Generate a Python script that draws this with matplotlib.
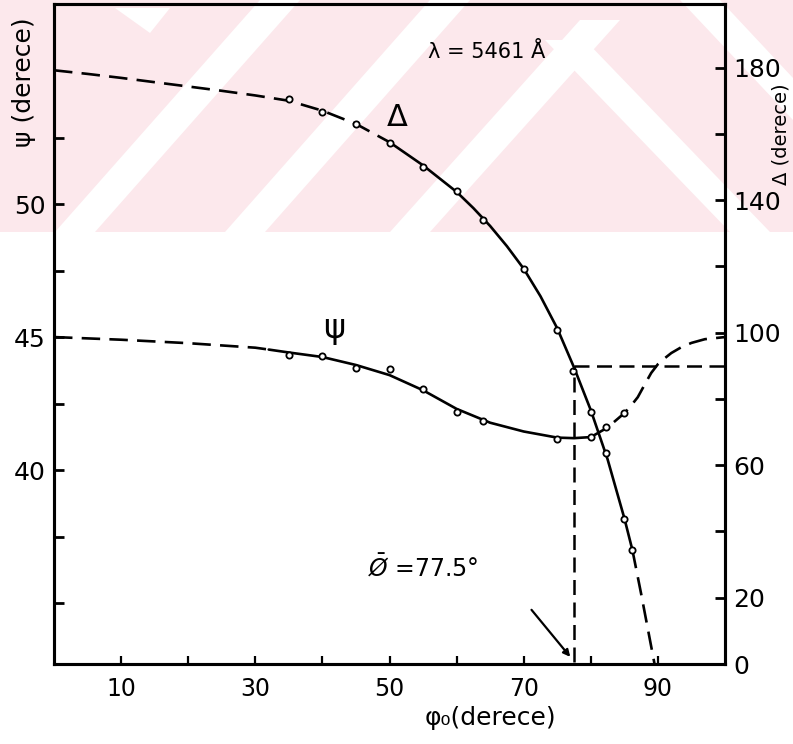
import matplotlib
matplotlib.use("Agg")
import matplotlib.pyplot as plt
from matplotlib.patches import Polygon, Rectangle
import numpy as np

# ---------------- data ----------------
# Delta curve (right axis), drawn line nodes
phi_delta_line = [0, 5, 10, 15, 20, 25, 30, 35, 40, 45, 50, 55, 60, 62.5, 65, 67.5, 70, 72.5, 75, 77.5, 80, 82.5, 85, 86.2, 87.5, 89.5]
delta_line = [179.2, 178.1, 176.9, 175.6, 174.3, 173.0, 171.6, 170.0, 167.0, 163.0, 157.5, 150.5, 142.5, 137.6, 132.2, 126.1, 119.3, 111.0, 101.3, 89.5, 76.6, 61.8, 44.0, 34.4, 21.2, 0.0]
delta_solid_range = (50, 86.2)

# Delta measured points
phi_delta_pts = [35, 40, 45, 50, 55, 60, 64, 70, 75, 77.3, 80, 82.2, 85, 86.2]
delta_pts = [170.4, 166.5, 162.9, 157.1, 149.9, 142.7, 134.0, 119.2, 100.9, 88.3, 76.2, 63.6, 43.8, 34.4]

# psi curve (left axis), drawn line nodes
phi_psi_line = [0, 10, 20, 30, 32, 35, 40, 45, 50, 55, 60, 65, 70, 75, 77.5, 80, 82.5, 85, 86, 87, 88, 89, 90, 91, 92, 93.5, 95, 97, 100]
psi_line = [45.0, 44.9, 44.77, 44.6, 44.53, 44.42, 44.25, 43.95, 43.57, 43.0, 42.3, 41.78, 41.45, 41.22, 41.2, 41.24, 41.6, 42.14, 42.42, 42.74, 43.2, 43.65, 43.98, 44.2, 44.4, 44.62, 44.78, 44.92, 45.0]
psi_solid_range = (32, 80)

# psi measured points
phi_psi_pts = [35, 40, 45, 50, 55, 60, 64, 75, 80, 82.2, 85]
psi_pts = [44.32, 44.29, 43.83, 43.80, 43.05, 42.18, 41.84, 41.17, 41.24, 41.62, 42.14]

# reading at the crossing
phi_bar = 77.5
delta_at_phi_bar = 90

x_ticks = [10, 20, 30, 40, 50, 60, 70, 80, 90]
x_ticklabels = ["10", "", "30", "", "50", "", "70", "", "90"]
psi_ticks = [35, 37.5, 40, 42.5, 45, 47.5, 50, 52.5]
psi_ticklabels = ["", "", "40", "", "45", "", "50", ""]
delta_ticks = [0, 20, 40, 60, 80, 100, 120, 140, 160, 180]
delta_ticklabels = ["0", "20", "", "60", "", "100", "", "140", "", "180"]

# ---------------- figure ----------------
W, H = 793, 744
fig = plt.figure(figsize=(W / 100, H / 100), dpi=100)

# background watermark (decorative)
bg = fig.add_axes([0, 0, 1, 1], zorder=0)
bg.set_xlim(0, W)
bg.set_ylim(H, 0)
bg.axis("off")
pink = "#fce8ec"
bg.add_patch(Rectangle((0, 0), W, 232, facecolor=pink, edgecolor="none"))
white_stripes = [
    [(55, 232), (95, 232), (300, 0), (260, 0)],
    [(225, 232), (265, 232), (470, 0), (430, 0)],
    [(390, 232), (430, 232), (620, 20), (580, 20)],
    [(545, 40), (585, 40), (770, 232), (730, 232)],
    [(680, 0), (720, 0), (793, 78), (793, 120)],
    [(115, 8), (170, 8), (150, 33)],
]
for s in white_stripes:
    bg.add_patch(Polygon(s, closed=True, facecolor="white", edgecolor="none"))

L, R, T, B = 54, 725, 4, 664
ax = fig.add_axes([L / W, 1 - B / H, (R - L) / W, (B - T) / H], zorder=1)
ax.patch.set_alpha(0)
ax2 = ax.twinx()

ax.set_xlim(0, 100)
ax.set_ylim(32.71, 57.52)
ax2.set_ylim(0.7, 199.2)

lw = 1.9
dash = (0, (7, 3.5))

# psi curve
pl = np.array(phi_psi_line)
ps = np.array(psi_line)
m1 = pl <= psi_solid_range[0]
m2 = (pl >= psi_solid_range[0]) & (pl <= psi_solid_range[1])
m3 = pl >= psi_solid_range[1]
ax.plot(pl[m1], ps[m1], color="black", lw=lw, linestyle=dash)
ax.plot(pl[m2], ps[m2], color="black", lw=lw, solid_capstyle="round")
ax.plot(pl[m3], ps[m3], color="black", lw=lw, linestyle=dash)
ax.plot(phi_psi_pts, psi_pts, "o", ms=4.5, mfc="white", mec="black", mew=1.3)

# delta curve
dl = np.array(phi_delta_line)
dv = np.array(delta_line)
n1 = dl <= delta_solid_range[0]
n2 = (dl >= delta_solid_range[0]) & (dl <= delta_solid_range[1])
n3 = dl >= delta_solid_range[1]
ax2.plot(dl[n1], dv[n1], color="black", lw=lw, linestyle=dash)
ax2.plot(dl[n2], dv[n2], color="black", lw=lw)
ax2.plot(dl[n3], dv[n3], color="black", lw=lw, linestyle=dash)
ax2.plot(phi_delta_pts, delta_pts, "o", ms=4.5, mfc="white", mec="black", mew=1.3)

# reference dashed lines
ax2.plot([phi_bar, phi_bar], [0.7, delta_at_phi_bar], color="black", lw=1.8, linestyle=(0, (6, 3)))
ax2.plot([phi_bar, 100], [delta_at_phi_bar, delta_at_phi_bar], color="black", lw=1.8, linestyle=(0, (6, 3)))

# arrow to phi_bar
ax2.annotate("", xy=(phi_bar - 0.3, 1.5), xytext=(70.9, 17.0),
             arrowprops=dict(arrowstyle="-|>", color="black", lw=1.6, mutation_scale=10))

# ticks and spines
for a in (ax, ax2):
    for sp in a.spines.values():
        sp.set_linewidth(2.2)
ax.set_xticks(x_ticks)
ax.set_xticklabels(x_ticklabels)
ax.set_yticks(psi_ticks)
ax.set_yticklabels(psi_ticklabels)
ax2.set_yticks(delta_ticks)
ax2.set_yticklabels(delta_ticklabels)
ax.tick_params(axis="x", direction="in", length=6, width=1.6, labelsize=17, pad=9)
ax.tick_params(axis="y", direction="in", length=7, width=2, labelsize=18, pad=6)
ax2.tick_params(axis="y", direction="in", length=7, width=2, labelsize=18, pad=6)

# texts
fig.text(487 / W, 1 - 52 / H, "λ = 5461 Å", fontsize=15, ha="center", va="center")
fig.text(397 / W, 1 - 118 / H, "Δ", fontsize=22, ha="center", va="center")
fig.text(334 / W, 1 - 328 / H, "ψ", fontsize=24, ha="center", va="center")
fig.text(423 / W, 1 - 568 / H, r"$\bar{\O}$" + " =77.5°", fontsize=17, ha="center", va="center")
fig.text(490 / W, 1 - 718 / H, "φ₀(derece)", fontsize=18, ha="center", va="center")
fig.text(24 / W, 1 - 82 / H, "ψ (derece)", fontsize=18, ha="center", va="center", rotation=90)
fig.text(781 / W, 1 - 134 / H, "Δ (derece)", fontsize=14, ha="center", va="center", rotation=90)

fig.savefig("out.png", dpi=100)
